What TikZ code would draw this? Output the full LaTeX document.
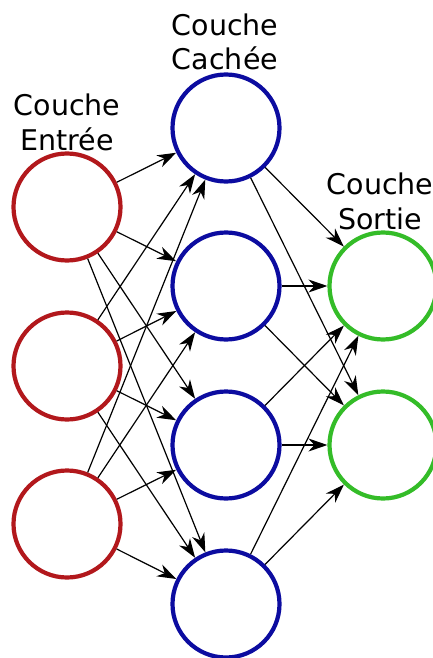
\documentclass[tikz,border=0pt]{standalone}
\usepackage{fontspec}
\setmainfont{DejaVu Sans}
\usetikzlibrary{arrows.meta}
\definecolor{inred}{RGB}{178,24,28}
\definecolor{hidblue}{RGB}{12,12,160}
\definecolor{outgreen}{RGB}{52,188,40}
\tikzset{
  x=1pt, y=-1pt,
  neuron/.style={circle, draw, line width=4.2pt, minimum size=107pt, inner sep=0pt, fill=white},
  inneuron/.style={neuron, draw=inred},
  hidneuron/.style={neuron, draw=hidblue},
  outneuron/.style={neuron, draw=outgreen},
  layerlabel/.style={align=center, font=\fontsize{28.5}{34.5}\selectfont, inner sep=0pt},
  link/.style={line width=1.2pt, -{Stealth[length=19pt, width=13pt, inset=6pt]}},
}
\begin{document}
\begin{tikzpicture}
  \useasboundingbox (0,0) rectangle (433,658);
  \clip (0,0) rectangle (433,658);

  % input layer
  \node[inneuron] (i1) at (67,207) {};
  \node[inneuron] (i2) at (67,366) {};
  \node[inneuron] (i3) at (67,524) {};

  % hidden layer
  \node[hidneuron] (h1) at (226,128) {};
  \node[hidneuron] (h2) at (226,286) {};
  \node[hidneuron] (h3) at (226,445) {};
  \node[hidneuron] (h4) at (226,604) {};

  % output layer
  \node[outneuron] (o1) at (383,286) {};
  \node[outneuron] (o2) at (383,445) {};

  % connections
  \foreach \i in {1,2,3}
    \foreach \h in {1,2,3,4}
      \draw[link] (i\i) -- (h\h);
  \foreach \h in {1,2,3,4}
    \foreach \o in {1,2}
      \draw[link] (h\h) -- (o\o);

  % layer titles (anchored on the baseline of the second line)
  \node[layerlabel, anchor=base] (tin) at (67,150) {Couche\\Entrée};
  \node[layerlabel, anchor=base] (thid) at (225,70) {Couche\\Cachée};
  \node[layerlabel, anchor=base] (tout) at (380,229) {Couche\\Sortie};
\end{tikzpicture}
\end{document}
